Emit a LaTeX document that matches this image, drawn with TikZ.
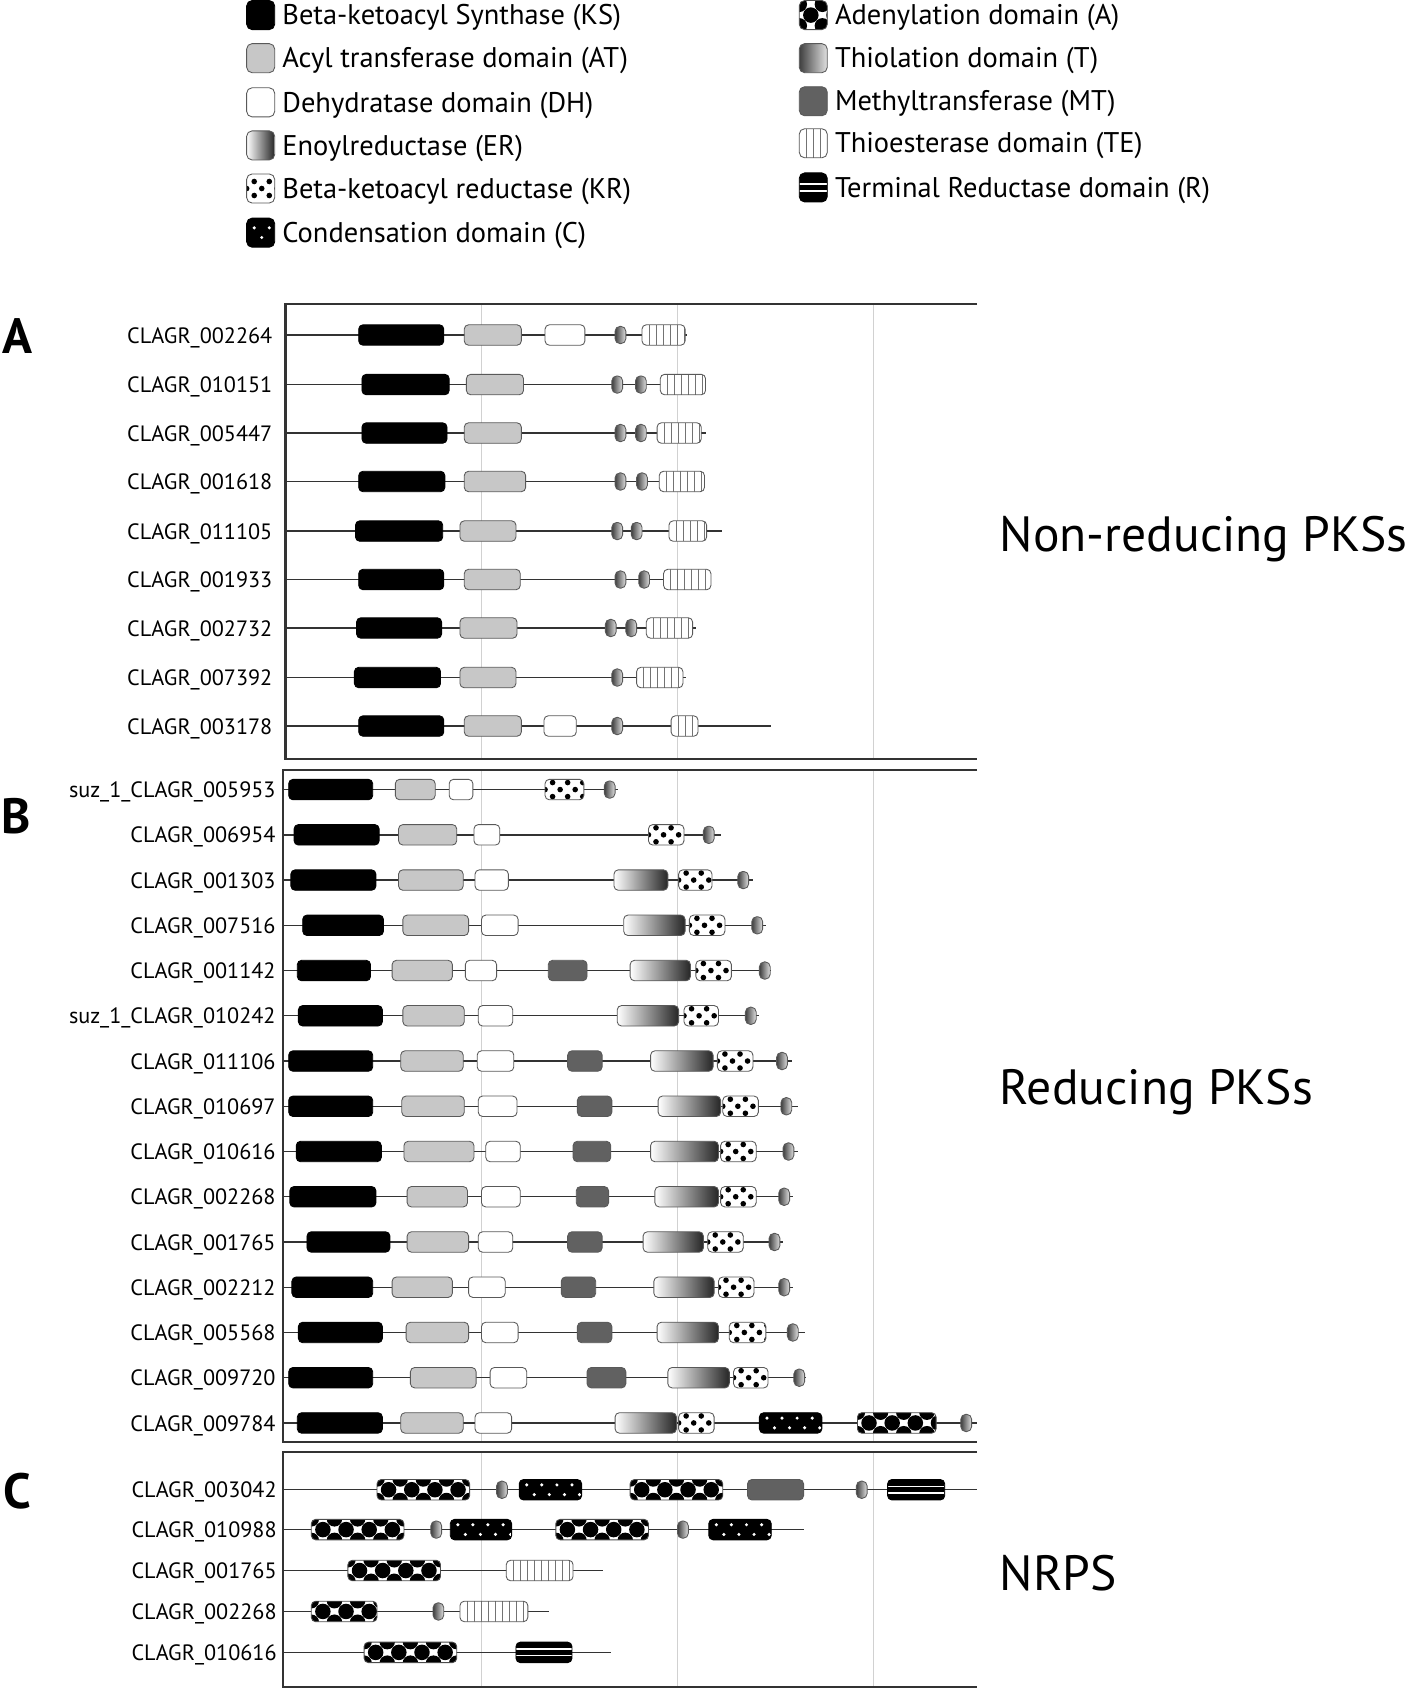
\documentclass[tikz,border=0pt]{standalone}
\usepackage{fontspec}
\setmainfont{PT Sans}
\tikzset{
  dom/.style={rounded corners=4pt, inner sep=0pt, minimum height=19pt, draw=black!65, line width=0.8pt},
  dKS/.style={dom, fill=black, draw=black},
  dAT/.style={dom, fill=black!22},
  dDH/.style={dom, fill=white},
  dER/.style={dom, left color=white, right color=black!85},
  dMT/.style={dom, fill=black!62},
  dT/.style={dom, rounded corners=4.5pt, minimum height=16pt, left color=black!75, right color=black!12},
  dTE/.style={dom, fill=white, path picture={
    \foreach \k in {1,...,14}
      \draw[black!55, line width=0.6pt] ([xshift=\k*6.5pt]path picture bounding box.south west) -- ([xshift=\k*6.5pt]path picture bounding box.north west);}},
  dKR/.style={dom, fill=white, path picture={
    \foreach \k in {0,...,8} {
      \fill[black] ([xshift=\k*14pt+7pt, yshift=6.5pt]path picture bounding box.west) circle (2.6pt);
      \fill[black] ([xshift=\k*14pt+7pt, yshift=-6.5pt]path picture bounding box.west) circle (2.6pt);
      \fill[black] ([xshift=\k*14pt]path picture bounding box.west) circle (2.6pt);}}},
  dC/.style={dom, fill=black, draw=black, path picture={
    \foreach \k in {0,...,10} {
      \fill[white] ([xshift=\k*14pt+7pt, yshift=4.5pt]path picture bounding box.west) circle (1.6pt);
      \fill[white] ([xshift=\k*14pt+14pt, yshift=-4.5pt]path picture bounding box.west) circle (1.6pt);}}},
  dA/.style={dom, fill=white, draw=black!70, path picture={
    \foreach \k in {0,...,8} {
      \fill[black] ([xshift=\k*21.5pt+10.75pt]path picture bounding box.west) circle (7.2pt);
      \fill[black] ([xshift=\k*21.5pt, yshift=10pt]path picture bounding box.west) circle (7.2pt);
      \fill[black] ([xshift=\k*21.5pt, yshift=-10pt]path picture bounding box.west) circle (7.2pt);}}},
  dR/.style={dom, fill=black, draw=black, path picture={
    \draw[white, line width=1.6pt] ([yshift=3pt]path picture bounding box.west) -- ([yshift=3pt]path picture bounding box.east);
    \draw[white, line width=1.6pt] ([yshift=-3pt]path picture bounding box.west) -- ([yshift=-3pt]path picture bounding box.east);}},
  key/.style={minimum width=26pt, minimum height=27pt, rounded corners=5pt},
  keytext/.style={anchor=west, inner sep=0pt, text height=18pt, text depth=0pt, font=\fontsize{26.4}{30}\selectfont},
  gene/.style={anchor=east, inner sep=0pt, text height=15pt, text depth=0pt, font=\fontsize{20.6}{24}\selectfont},
  track/.style={line width=1.3pt, black!80},
  frame/.style={line width=2pt, black!80},
  grid/.style={line width=1pt, black!18},
  panel/.style={inner sep=0pt, text height=34pt, text depth=0pt, font=\fontsize{46}{50}\selectfont\bfseries},
  group/.style={anchor=base west, inner sep=0pt, font=\fontsize{46}{52}\selectfont}
}
\begin{document}
\begin{tikzpicture}[x=1pt,y=-1pt]
\useasboundingbox (0,0) rectangle (1315,1568);
% legend
\foreach \s/\txt/\y in {KS/Beta-ketoacyl Synthase (KS)/14, AT/Acyl transferase domain (AT)/54,
  DH/Dehydratase domain (DH)/95, ER/Enoylreductase (ER)/135,
  KR/Beta-ketoacyl reductase (KR)/175, C/Condensation domain (C)/216}
{
  \node[d\s, key] (k\s) at (242,\y) {};
  \node[keytext] (t\s) at (262,\y) {\txt};
}
\foreach \s/\txt/\y in {A/Adenylation domain (A)/14, T/Thiolation domain (T)/54,
  MT/Methyltransferase (MT)/94, TE/Thioesterase domain (TE)/133,
  R/Terminal Reductase domain (R)/174}
{
  \node[d\s, key] (k\s) at (755,\y) {};
  \node[keytext] (t\s) at (775,\y) {\txt};
}
% grid and frames
\foreach \x in {447,629,811} {
  \draw[grid] (\x,282) -- (\x,705);
  \draw[grid] (\x,715) -- (\x,1339);
  \draw[grid] (\x,1348) -- (\x,1567);
}
\draw[frame] (907,282) -- (265,282) -- (265,705) -- (907,705);
\draw[frame] (907,715) -- (263,715) -- (263,1339) -- (907,1339);
\draw[frame] (907,1348) -- (263,1348) -- (263,1566) -- (907,1566);
\node[panel] (pA) at (16,311) {A};
\node[panel] (pB) at (15,757) {B};
\node[panel] (pC) at (16,1383) {C};
\node[group] (nr) at (928,512) {Non-reducing PKSs};
\node[group] (rd) at (928,1025) {Reducing PKSs};
\node[group] (nrps) at (928,1477) {NRPS};
% A: non-reducing PKSs
\foreach \y/\gene/\stop/\doms in {
  311/CLAGR\_002264/638/{KS/333/412,AT/431/484,DH/506/543,T/571/581,TE/596/636},
  357/CLAGR\_010151/655/{KS/336/417,AT/433/486,T/568/578,T/590/600,TE/613/655},
  402/CLAGR\_005447/655/{KS/336/415,AT/431/484,T/571/581,T/590/600,TE/610/651},
  447/CLAGR\_001618/654/{KS/333/413,AT/431/488,T/571/581,T/591/601,TE/612/654},
  493/CLAGR\_011105/670/{KS/330/411,AT/427/479,T/568/578,T/586/596,TE/621/656},
  538/CLAGR\_001933/660/{KS/333/412,AT/431/483,T/571/581,T/593/603,TE/616/660},
  583/CLAGR\_002732/646/{KS/331/410,AT/427/480,T/562/572,T/581/591,TE/600/643},
  629/CLAGR\_007392/637/{KS/329/409,AT/427/479,T/568/578,TE/591/634},
  674/CLAGR\_003178/716/{KS/333/412,AT/431/484,DH/505/535,T/568/578,TE/623/648}}
{
  \node[gene] (g\y) at (253,\y) {\gene};
  \coordinate (s\y) at (265,\y);
  \coordinate (e\y) at (\stop,\y);
  \draw[track] (s\y) -- (e\y);
  \foreach \s/\a/\b in \doms
    \node[d\s, minimum width={(\b-\a)*1pt}] (\s\y-\a) at ({(\a+\b)/2},\y) {};
}
% B: reducing PKSs
\foreach \y/\gene/\stop/\doms in {
  733/suz\_1\_CLAGR\_005953/574/{KS/268/346,AT/367/404,DH/417/439,KR/506/542,T/561/571},
  775/CLAGR\_006954/669/{KS/273/352,AT/370/424,DH/440/464,KR/602/635,T/653/663},
  817/CLAGR\_001303/699/{KS/270/349,AT/370/430,DH/441/472,ER/570/620,KR/630/661,T/685/695},
  859/CLAGR\_007516/711/{KS/281/356,AT/374/435,DH/447/481,ER/579/636,KR/640/673,T/698/708},
  901/CLAGR\_001142/716/{KS/276/344,AT/364/420,DH/432/461,MT/509/545,ER/585/641,KR/646/679,T/705/715},
  943/suz\_1\_CLAGR\_010242/705/{KS/277/355,AT/374/431,DH/444/476,ER/573/630,KR/635/667,T/692/702},
  985/CLAGR\_011106/735/{KS/268/346,AT/372/430,DH/443/477,MT/527/559,ER/604/662,KR/666/699,T/721/731},
  1027/CLAGR\_010697/741/{KS/268/346,AT/373/431,DH/444/480,MT/536/568,ER/611/669,KR/671/704,T/725/735},
  1069/CLAGR\_010616/741/{KS/275/354,AT/375/440,DH/451/483,MT/532/567,ER/604/667,KR/669/702,T/727/737},
  1111/CLAGR\_002268/736/{KS/269/349,AT/378/434,DH/447/483,MT/535/565,ER/608/667,KR/669/702,T/723/733},
  1153/CLAGR\_001765/727/{KS/285/362,AT/378/435,DH/444/476,MT/527/559,ER/597/653,KR/657/690,T/714/724},
  1195/CLAGR\_002212/736/{KS/271/346,AT/364/420,DH/435/469,MT/521/553,ER/607/663,KR/667/700,T/723/733},
  1237/CLAGR\_005568/747/{KS/277/355,AT/377/435,DH/447/481,MT/536/568,ER/610/667,KR/677/711,T/731/741},
  1279/CLAGR\_009720/748/{KS/268/346,AT/381/442,DH/455/489,MT/545/581,ER/620/677,KR/681/713,T/737/747},
  1321/CLAGR\_009784/907/{KS/276/355,AT/372/430,DH/441/475,ER/571/628,KR/630/663,C/705/763,A/796/869,T/892/902}}
{
  \node[gene] (g\y) at (256,\y) {\gene};
  \coordinate (s\y) at (263,\y);
  \coordinate (e\y) at (\stop,\y);
  \draw[track] (s\y) -- (e\y);
  \foreach \s/\a/\b in \doms
    \node[d\s, minimum width={(\b-\a)*1pt}] (\s\y-\a) at ({(\a+\b)/2},\y) {};
}
% C: NRPS
\foreach \y/\gene/\stop/\doms in {
  1383/CLAGR\_003042/907/{A/350/436,T/461/471,C/482/540,A/585/671,MT/694/746,T/795/805,R/824/877},
  1420/CLAGR\_010988/746/{A/289/375,T/400/410,C/418/475,A/516/602,T/629/639,C/658/716},
  1458/CLAGR\_001765/560/{A/323/409,TE/470/532},
  1496/CLAGR\_002268/510/{A/289/350,T/402/412,TE/427/490},
  1534/CLAGR\_010616/567/{A/338/424,R/479/531}}
{
  \node[gene] (g\y) at (257,\y) {\gene};
  \coordinate (s\y) at (263,\y);
  \coordinate (e\y) at (\stop,\y);
  \draw[track] (s\y) -- (e\y);
  \foreach \s/\a/\b in \doms
    \node[d\s, minimum width={(\b-\a)*1pt}] (\s\y-\a) at ({(\a+\b)/2},\y) {};
}
\end{tikzpicture}
\end{document}
